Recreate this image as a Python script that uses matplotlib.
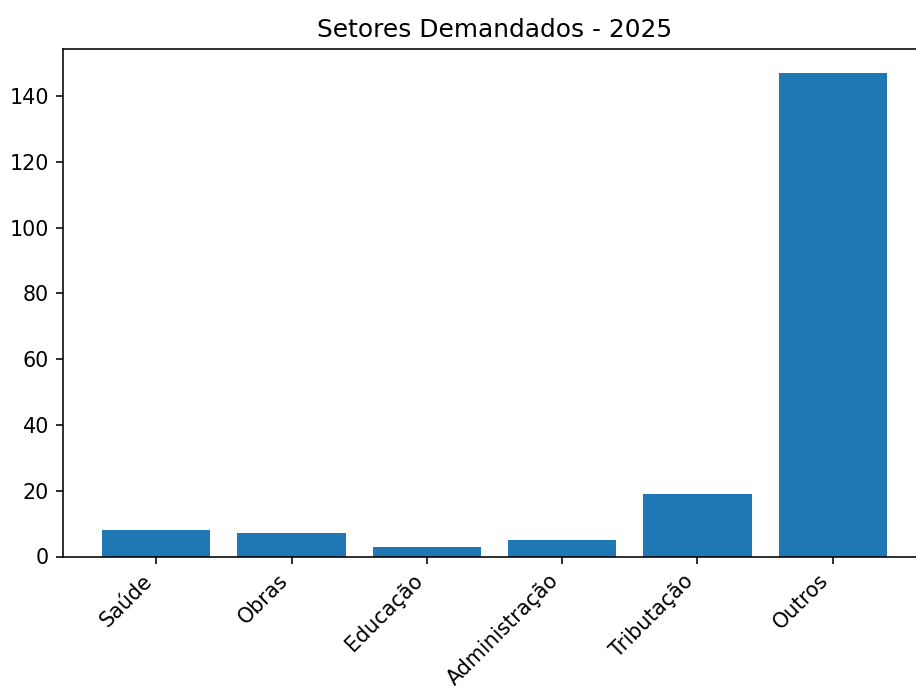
import matplotlib
matplotlib.use("Agg")
import matplotlib.pyplot as plt

setores = ["Saúde", "Obras", "Educação", "Administração", "Tributação", "Outros"]
quantidades = [8, 7, 3, 5, 19, 147]

plt.rcParams["font.size"] = 10.4
W, H = 916, 686
fig = plt.figure(figsize=(W/143, H/143), dpi=143)
ax = fig.add_axes([63/W, 1 - 556.5/H, (926-63)/W, (556.5-49)/H])
ax.bar(setores, quantidades, color="#1f77b4")
ax.set_title("Setores Demandados - 2025", fontsize=12.5)
plt.setp(ax.get_xticklabels(), rotation=45, ha="right")
fig.savefig("out.png", dpi=143)
